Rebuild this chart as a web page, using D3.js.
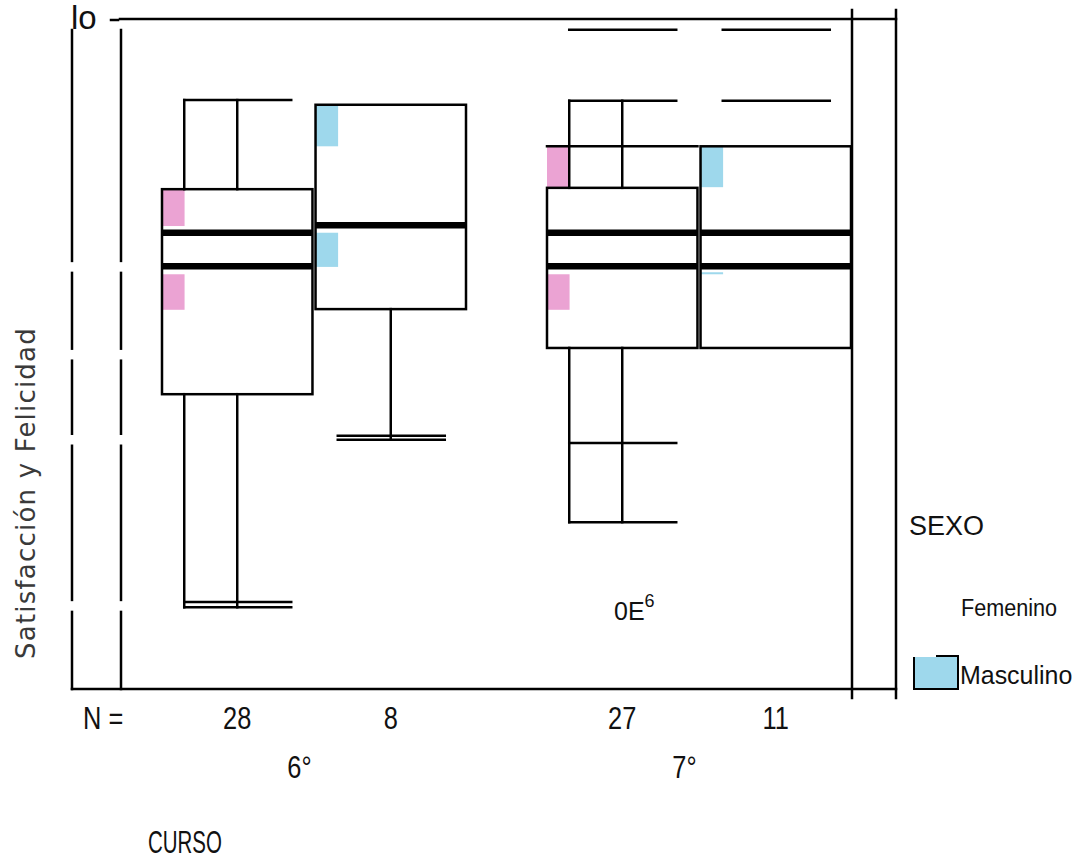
<!DOCTYPE html>
<html>
<head>
<meta charset="utf-8">
<script src="https://cdn.jsdelivr.net/npm/d3@7"></script>
<style>
body{margin:0;background:#fff;}
svg text{font-family:"Liberation Sans",Arial,sans-serif;fill:#111;}
</style>
</head>
<body>
<div id="chart"></div>
<script>
// categories
var CURSOS = ["6°","7°"];
var SEXOS = ["Femenino","Masculino"];
var SEXO_COLORS = ["#eba3d3","#9ed8ec"];

// one entry per box: 6° Fem, 6° Masc, 7° Fem, 7° Masc
var BOX_CURSO = ["6°","6°","7°","7°"];
var BOX_SEXO = ["Femenino","Masculino","Femenino","Masculino"];
var N_COUNTS = [28, 8, 27, 11];
var BOX_Q1 = [4.40, 5.67, 5.09, 5.09];
var BOX_Q3 = [7.46, 8.72, 7.48, 8.10];
var BOX_MEDIANS = [[6.81,6.31],[6.92],[6.81,6.31],[6.81,6.31]];
var WHISKER_HI = [8.79, null, 8.78, null];
var WHISKER_LO = [1.22, 3.72, 2.49, null];
var WHISKER_TWIN = [true, false, true, false];
var CAP_VALUES = [[8.79,1.30,1.22],[3.78,3.72],[9.84,8.78,3.67,2.49],[9.84,8.78]];
var SPAN_VALUES = [[],[],[8.10],[]];
var PATCHES = [
	[[7.46,6.91],[6.19,5.66]],
	[[8.72,8.10],[6.81,6.30]],
	[[8.10,7.49],[6.19,5.66]],
	[[8.10,7.49],[6.22,6.19]]
];

// axis bits
var Y_DOMAIN = [0,10];
var Y_TOP_LABEL = "lo";
var Y_GAPS = [6.30, 4.99, 3.72, 1.24];
var Y_TITLE = "Satisfacción y Felicidad";
var X_TITLE = "CURSO";
var LEGEND_TITLE = "SEXO";
var STRAY_TEXT = ["0E","6"];

var WIDTH = 1085, HEIGHT = 863;
var INK = "#000";
var svg, y, xCurso, xSexo;

// ----------------------------------------------------------------------------------------------------------------
// ---------------------------------------------- CHART ----------------------------------------------------------
// ----------------------------------------------------------------------------------------------------------------

function drawChart(){
	svg = d3.select("#chart").append("svg")
		.attr("width",WIDTH).attr("height",HEIGHT);

	y = d3.scaleLinear().domain(Y_DOMAIN).range([689,19]);
	xCurso = d3.scaleBand().domain(CURSOS).range([121,891]);
	xSexo = d3.scaleBand().domain(SEXOS).range([41,345]).paddingInner(0.02);

	drawFrame();
	drawBoxes();
	drawLabels();
	drawLegend();
}

function drawFrame(){
	var g = svg.append("g").attr("id","frame");
	var top = y(Y_DOMAIN[1]), bottom = y(Y_DOMAIN[0]);

	_drawLine(g,120,top,896,top,2.5);
	_drawLine(g,111,top+1,118,top+1,2.5);
	_drawLine(g,72,bottom,896,bottom,2.5);
	_drawLine(g,852,10,852,698,2.5);
	_drawLine(g,896,10,896,698,2.5);

	// left double axis, broken at the tick positions
	var _stops = [30].concat(Y_GAPS.map(function(v){return y(v);})).concat([bottom]);
	[72,121].forEach(function(lx){
		for (var i=0;i<_stops.length-1;i++){
			var y1 = i==0 ? _stops[i] : _stops[i]+6;
			var y2 = i==_stops.length-2 ? _stops[i+1] : _stops[i+1]-6;
			_drawLine(g,lx,y1,lx,y2,2.5);
		}
	});
}

function drawBoxes(){
	var g = svg.append("g").attr("id","boxes");
	var bw = xSexo.bandwidth();

	BOX_CURSO.forEach(function(c,i){
		var bx = xCurso(c)+xSexo(BOX_SEXO[i]);
		var cx = bx+bw/2;
		var capL = cx-53, capR = cx+54;
		var color = SEXO_COLORS[SEXOS.indexOf(BOX_SEXO[i])];

		// coloured patches at the left edge
		PATCHES[i].forEach(function(p){
			g.append("rect")
				.attr("x",bx).attr("y",y(p[0]))
				.attr("width",bw*0.15).attr("height",y(p[1])-y(p[0]))
				.attr("fill",color);
		});

		// whiskers
		var xs = WHISKER_TWIN[i] ? [capL,cx] : [cx];
		xs.forEach(function(wx){
			if (WHISKER_HI[i]!=null) _drawLine(g,wx,y(BOX_Q3[i]),wx,y(WHISKER_HI[i]),2.5);
			if (WHISKER_LO[i]!=null) _drawLine(g,wx,y(BOX_Q1[i]),wx,y(WHISKER_LO[i]),2.5);
		});
		CAP_VALUES[i].forEach(function(v){
			_drawLine(g,capL,y(v),capR,y(v),2.5);
		});
		SPAN_VALUES[i].forEach(function(v){
			_drawLine(g,bx,y(v),bx+bw,y(v),2.5);
		});

		// box
		g.append("rect")
			.attr("x",bx).attr("y",y(BOX_Q3[i]))
			.attr("width",bw).attr("height",y(BOX_Q1[i])-y(BOX_Q3[i]))
			.attr("fill","none").attr("stroke",INK).attr("stroke-width",2.5);

		BOX_MEDIANS[i].forEach(function(m){
			_drawLine(g,bx,y(m),bx+bw,y(m),6.5).attr("stroke-linecap","butt");
		});

		_drawText(g,N_COUNTS[i],cx,729,{"size":"31px","anchor":"middle","squeeze":0.82});
	});
}

function drawLabels(){
	var g = svg.append("g").attr("id","labels");

	_drawText(g,Y_TOP_LABEL,71,29,{"size":"33px"});
	_drawText(g,"N =",83,729,{"size":"31px","squeeze":0.82});

	CURSOS.forEach(function(c){
		_drawText(g,c,xCurso(c)+xCurso.bandwidth()/2-14,778,{"size":"31px","anchor":"middle","squeeze":0.82});
	});
	_drawText(g,X_TITLE,148,853,{"size":"31px","squeeze":0.66});

	g.append("text")
		.attr("transform","translate(35,493) rotate(-90)")
		.attr("text-anchor","middle")
		.style("font-family","'DejaVu Sans',sans-serif")
		.style("font-size","26px")
		.style("letter-spacing","1.2px")
		.style("fill","#3a3a3a")
		.text(Y_TITLE);

	var t = g.append("text").attr("x",614).attr("y",620).style("font-size","25px");
	t.append("tspan").text(STRAY_TEXT[0]);
	t.append("tspan").attr("dy",-13).style("font-size","18px").text(STRAY_TEXT[1]);
}

function drawLegend(){
	var g = svg.append("g").attr("id","legend");

	_drawText(g,LEGEND_TITLE,909,535,{"size":"27px"});
	_drawText(g,SEXOS[0],961,616,{"size":"24px","squeeze":0.9});

	g.append("rect")
		.attr("x",914).attr("y",657).attr("width",44).attr("height",31)
		.attr("fill",SEXO_COLORS[1]);
	g.append("path")
		.attr("d","M936,656H958V689H914V657")
		.attr("fill","none").attr("stroke",INK).attr("stroke-width",2);
	_drawText(g,SEXOS[1],960,684,{"size":"26px","squeeze":0.96});
}

/* ------------------------------------------------- helper functions ----------------------------------------------------------- */
		function _drawLine(svg,x1,y1,x2,y2,w){
			return svg.append("line")
				.attr("x1",x1).attr("y1",y1)
				.attr("x2",x2).attr("y2",y2)
				.attr("stroke",INK).attr("stroke-width",w)
				.attr("stroke-linecap","square");
		}

		// opts.squeeze narrows the glyphs horizontally, like the condensed print of the original
		function _drawText(svg,text,x,y,opts){
			var k = opts.squeeze||1;
			var t = svg.append("text")
				.attr("transform","translate("+x+","+y+") scale("+k+",1)")
				.attr("text-anchor",opts.anchor||"start")
				.style("font-size",opts.size||"20px")
				.text(text);
			return t;
		}

drawChart();
</script>
</body>
</html>
